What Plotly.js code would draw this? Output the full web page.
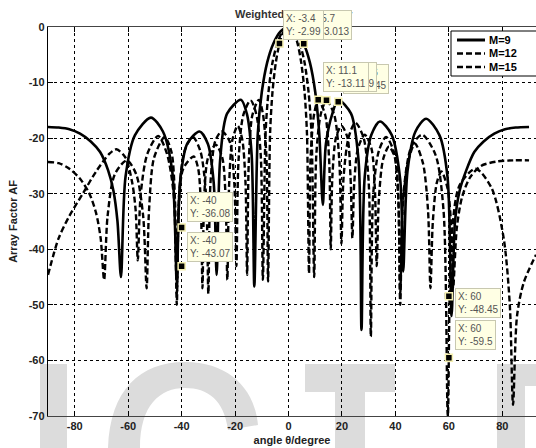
<!DOCTYPE html>
<html>
<head>
<meta charset="utf-8">
<script src="https://cdn.plot.ly/plotly-3.0.1.min.js"></script>
<style>html,body{margin:0;padding:0;background:#fff;}#chart{width:536px;height:448px;}</style>
</head>
<body>
<div id="chart"></div>
<script>
// ---- data ----
const xM9 = [-90,-86,-82,-78,-74,-70.5,-67.5,-65.5,-64,-62.7,-61,-57.5,-51.5,-47,-43.5,-41.8,-40.6,-37.9,-33.3,-30.2,-28,-26.9,-25.6,-23,-17.8,-15.6,-13.8,-12.8,-11.5,-10,-8,-5.7,-3,0,3,5.7,8,10,11.5,12.84,14,16.4,18.6,23.4,26.2,27.3,28.5,31,34.2,38.6,41.8,42.9,44.5,47.5,51.5,56.5,59.5,61,62.3,64,66.5,69.5,73,77,81,85,90];
const yM9 = [-18,-18.1,-18.4,-19.2,-20.6,-22.5,-25.8,-29.5,-35,-45,-27,-19.5,-16.3,-18.8,-26,-46,-28,-21,-18.8,-21,-28,-44.6,-24,-15.6,-13.1,-15.6,-23,-46.7,-19.2,-11.7,-6.4,-3,-0.8,0,-0.8,-3,-6.4,-11.7,-19.2,-32,-21,-15.6,-13.1,-15.6,-24,-54.5,-27,-19.4,-17,-19.4,-27.5,-44,-26,-18.8,-16.5,-19.5,-27,-52,-35,-29.5,-25.8,-22.5,-20.6,-19.2,-18.4,-18.1,-18];

const xM12 = [-90,-86,-82,-77,-72,-67,-64.4,-61,-58.5,-57.2,-56.4,-55.3,-52.8,-48.8,-45.5,-43,-41.8,-40.9,-38.9,-35.8,-33,-30.9,-30,-29.2,-27.4,-25,-22.1,-20.3,-19.5,-18.7,-16.9,-14.2,-12.1,-10.4,-9.6,-8.6,-7.5,-6,-4.23,-2.2,0,2.2,4.23,6,7.5,8.6,9.6,10.4,12.1,14.2,17.1,19,19.8,20.6,22.5,25,28,30,30.8,31.7,33.8,36.5,39.3,41,41.8,43,46,50,55,58,59.6,61,64,70,76,80.5,82.8,84,85.5,88,92.6];
const yM12 = [-44.6,-38,-34,-30,-26,-22.8,-22,-23.5,-28,-33,-42,-30,-22.8,-19.6,-22.8,-30,-48,-30,-22.3,-19.8,-22.3,-30,-48,-28,-20.5,-18.8,-20.5,-28,-43,-24,-15.8,-13.2,-15.6,-23,-45.5,-19.2,-11.7,-6.4,-3,-0.8,0,-0.8,-3,-6.4,-11.7,-19.2,-45,-23,-15.6,-13.19,-15.8,-24,-39,-27,-19.8,-17.2,-19.8,-28,-55.7,-30,-22.3,-19.8,-22.3,-30,-50,-30,-21.5,-19.4,-23,-33,-70,-38,-28.5,-25.5,-29,-38,-50,-68,-52,-46,-41];

const xM15 = [-90,-86,-82,-78,-74.5,-72,-70.3,-69,-67.7,-65,-60.5,-57,-54.4,-53.1,-52.2,-50.3,-46.3,-43.8,-42.5,-41.8,-41,-39.4,-35.5,-33.8,-32.8,-32.2,-31.5,-30.1,-27.2,-24.8,-23.6,-22.9,-22.2,-21,-19,-17.3,-16.1,-15.5,-14.85,-13.5,-11.1,-9.6,-8.3,-7.66,-6.9,-6,-4.75,-3.4,-1.8,0,1.8,3.4,4.75,6,6.9,7.66,8.3,9.6,11.1,13.7,15.2,15.8,16.4,17.8,19.8,22,23.2,23.9,24.6,26,28.5,31,32.3,33,33.8,35.4,37.6,40,41.1,41.8,42.7,44.6,47.3,50.3,52.2,53.1,54,55.5,57.2,59.5,61,61.6,63,65,68,72,78,84,90];
const yM15 = [-24.3,-24.5,-25.5,-27.3,-30,-33.5,-38,-45.5,-34,-26.5,-24,-26.5,-34,-47,-33,-23.5,-19.8,-22.5,-31,-50,-32,-25.5,-23.3,-25.5,-32,-47,-30,-23.5,-21.2,-23.5,-30,-45.5,-28,-20.3,-17.8,-20.3,-28,-44.6,-24,-15.8,-13.11,-15.6,-23,-45.8,-19.2,-11.7,-6.4,-3,-0.8,0,-0.8,-3,-6.4,-11.7,-19.2,-44.3,-23,-15.6,-13.11,-15.8,-24,-40,-27,-19.8,-17.8,-19.8,-27,-38,-28,-21.8,-19.4,-21.8,-29,-43,-31,-23.8,-21.5,-23.8,-31,-48,-33,-24.5,-21,-24.5,-33,-47,-35,-28,-26,-29,-37,-47,-36,-30.5,-27,-25,-24.2,-24,-24];

const seriesNames = ["M=9","M=12","M=15"];
const xTicks = [-80,-60,-40,-20,0,20,40,60,80];
const yTicks = [0,-10,-20,-30,-40,-50,-60,-70];

// data tips (value pairs as displayed)
const tipX = [5.7, -3.4, 18.6, 14.2, 11.1, -40, -40, 60, 60];
const tipY = [-3.013, -2.99, -13.45, -13.19, -13.11, -36.08, -43.07, -48.45, -59.5];

// ---- drawing ----
const FONT = "Arial, 'Liberation Sans', sans-serif";
const dashed = "6px,3px";
const traces = [
  {x:xM9, y:yM9, name:seriesNames[0], mode:"lines", showlegend:false, line:{color:"#000", width:2.6, shape:"spline", smoothing:0.8}},
  {x:xM12, y:yM12, name:seriesNames[1], mode:"lines", showlegend:false, line:{color:"#000", width:2.4, dash:dashed, shape:"spline", smoothing:0.8}},
  {x:xM15, y:yM15, name:seriesNames[2], mode:"lines", showlegend:false, line:{color:"#000", width:2.4, dash:dashed, shape:"spline", smoothing:0.8}},
  {x:tipX, y:tipY, mode:"markers", showlegend:false, hoverinfo:"skip",
   marker:{symbol:"square", size:7, color:"#000", line:{color:"#f5f0b0", width:1.5}}}
];

// annotation offsets for the tips: [xanchor, yanchor, xshift, yshift]
const tipPlace = [
  ["left","bottom",2,4],["left","bottom",4,4],
  ["left","bottom",5,8],["left","bottom",5,8],["left","bottom",5,8],
  ["left","bottom",5,6],["left","bottom",5,4],
  ["left","top",6,8],["left","bottom",6,8]
];
const annotations = tipX.map((x,i)=>({
  x:x, y:tipY[i], xref:"x", yref:"y", showarrow:false,
  text:"X: "+x+"<br>Y: "+tipY[i], align:"left",
  xanchor:tipPlace[i][0], yanchor:tipPlace[i][1], xshift:tipPlace[i][2], yshift:tipPlace[i][3],
  bgcolor:"#ffffe4", bordercolor:"#c8c8b0", borderwidth:1, borderpad:2,
  font:{family:FONT, size:10, color:"#555"}
}));

// pixel -> paper helpers (plot area: x 48..536, y 27..416)
const W = (px)=> (px-48)/488, H = (py)=> (416-py)/389;

// custom legend (box, line samples, labels)
const legRows = [40, 53.5, 67];
const legDash = ["solid", dashed, dashed];
const shapes = [];
shapes.push({type:"rect", xref:"paper", yref:"paper", x0:W(451), x1:W(545), y0:H(76), y1:H(31),
             fillcolor:"#fff", line:{color:"#000", width:1}, layer:"above"});
seriesNames.forEach((n,i)=>{
  shapes.push({type:"line", xref:"paper", yref:"paper", x0:W(457), x1:W(485), y0:H(legRows[i]), y1:H(legRows[i]),
               line:{color:"#000", width:i===0?3:2.4, dash:legDash[i]}, layer:"above"});
  annotations.push({xref:"paper", yref:"paper", x:W(487), y:H(legRows[i]), xanchor:"left", yanchor:"middle",
                    showarrow:false, text:"<b>"+n+"</b>", font:{family:FONT, size:11, color:"#000"}});
});

// watermark (light grey logo letters behind the plot)
const wm = "#dcdcdc";
shapes.push(
  {type:"rect", xref:"paper", yref:"paper", x0:W(40), x1:W(67), y0:H(448), y1:H(364), fillcolor:wm, line:{width:0}, layer:"below"},
  {type:"path", xref:"paper", yref:"paper", layer:"below", fillcolor:wm, line:{width:0},
   path:"M "+W(108)+","+H(448)+" C "+W(110)+","+H(390)+" "+W(140)+","+H(362)+" "+W(185)+","+H(362)+" C "+W(230)+","+H(362)+" "+W(255)+","+H(390)+" "+W(258)+","+H(425)+" L "+W(228)+","+H(430)+" C "+W(224)+","+H(400)+" "+W(208)+","+H(388)+" "+W(185)+","+H(388)+" C "+W(160)+","+H(388)+" "+W(140)+","+H(405)+" "+W(140)+","+H(448)+" Z"},
  {type:"rect", xref:"paper", yref:"paper", x0:W(305), x1:W(395), y0:H(392), y1:H(364), fillcolor:wm, line:{width:0}, layer:"below"},
  {type:"rect", xref:"paper", yref:"paper", x0:W(335), x1:W(365), y0:H(448), y1:H(364), fillcolor:wm, line:{width:0}, layer:"below"},
  {type:"rect", xref:"paper", yref:"paper", x0:W(497), x1:W(525), y0:H(448), y1:H(364), fillcolor:wm, line:{width:0}, layer:"below"},
  {type:"rect", xref:"paper", yref:"paper", x0:W(525), x1:W(536), y0:H(386), y1:H(364), fillcolor:wm, line:{width:0}, layer:"below"}
);

const layout = {
  width:536, height:448,
  margin:{l:48, r:0, t:27, b:32, pad:0},
  paper_bgcolor:"#fff", plot_bgcolor:"rgba(0,0,0,0)",
  font:{family:FONT, size:11, color:"#222"},
  title:{text:"<b>Weighted Array Factor</b>", x:235/536, xanchor:"left", xref:"container",
         y:1-14/448, yanchor:"middle", yref:"container", font:{family:FONT, size:11, color:"#333"}},
  xaxis:{range:[-90,92.6], tickvals:xTicks, ticktext:xTicks.map(String), showgrid:true,
         gridcolor:"#000", griddash:"dot", gridwidth:1, zeroline:false,
         showline:true, linecolor:"#444", linewidth:1.2, mirror:"ticks", ticks:"inside", ticklen:5, tickcolor:"#000",
         tickfont:{family:FONT, size:11, color:"#222", weight:"bold"},
         title:{text:"<b>angle θ/degree</b>", standoff:4, font:{family:FONT, size:11, color:"#222"}}},
  yaxis:{range:[-70,0], tickvals:yTicks, ticktext:yTicks.map(String), showgrid:true,
         gridcolor:"#000", griddash:"dot", gridwidth:1, zeroline:false,
         showline:true, linecolor:"#000", linewidth:1.2, mirror:false, ticks:"inside", ticklen:5, tickcolor:"#000",
         tickfont:{family:FONT, size:11, color:"#222", weight:"bold"},
         title:{text:"<b>Array Factor AF</b>", standoff:8, font:{family:FONT, size:11, color:"#222"}}},
  showlegend:false,
  annotations:annotations,
  shapes:shapes
};

Plotly.newPlot("chart", traces, layout, {staticPlot:true, displayModeBar:false});
</script>
</body>
</html>
